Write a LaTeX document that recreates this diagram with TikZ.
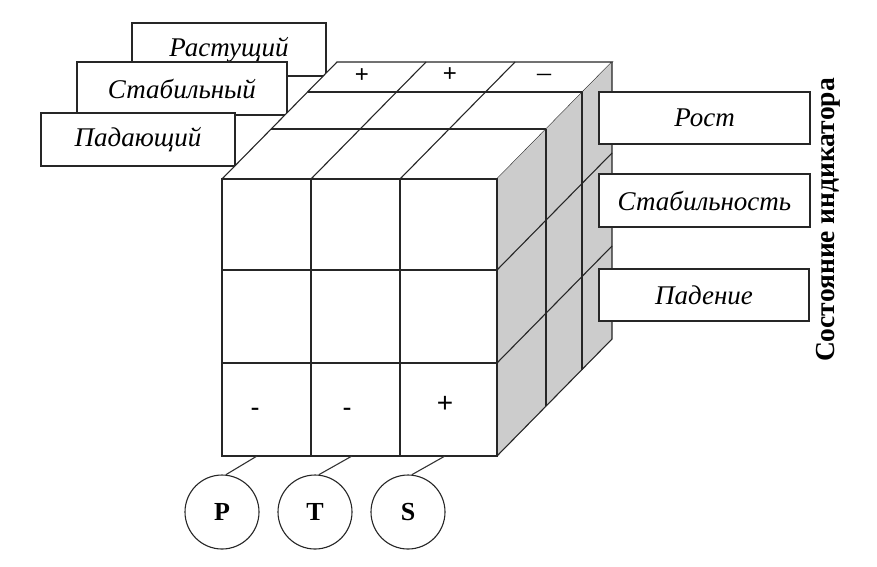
\documentclass[tikz,border=0pt]{standalone}
\usepackage{fontspec}
\setmainfont{Liberation Serif}
\newfontfamily\arialf{Liberation Sans}
\begin{document}
\begin{tikzpicture}[x=1pt,y=-1pt,
  edge/.style={line width=1.1pt,draw=black!85},
  labelbox/.style={draw=black!85,line width=1.1pt,fill=white,minimum height=53pt,inner sep=0pt,
     font=\fontsize{27}{30}\selectfont\itshape},
  signtxt/.style={font=\arialf\fontsize{24}{28}\selectfont,inner sep=0pt},
  factor/.style={circle,draw=black!85,line width=1.1pt,minimum size=74pt,inner sep=0pt,
     font=\fontsize{26}{28}\selectfont\bfseries},
  link/.style={line width=1.1pt,draw=black!80}]
\useasboundingbox (0,0) rectangle (877,566);
% left labels (back to front)
\node[labelbox,minimum width=194pt] (rast) at (229,49.5) {Растущий};
\node[labelbox,minimum width=210pt] (stab) at (182,88.5) {Стабильный};
\node[labelbox,minimum width=194pt] (pad) at (138,139.5) {Падающий};
% top face
\fill[white] (222,179) -- (497,179) -- (612,62) -- (337,62) -- cycle;
\draw[edge] (222,179) -- (337,62) -- (612,62) -- (497,179);
\draw[edge] (307.5,92) -- (582.5,92);
\draw[edge] (271,129) -- (546,129);
\draw[edge] (311,179) -- (426,62);
\draw[edge] (400,179) -- (515,62);
% right face
\fill[black!20] (497,179) -- (612,62) -- (612,339) -- (497,456) -- cycle;
\draw[edge] (612,62) -- (612,339) -- (497,456);
\draw[edge] (546,129) -- (546,406);
\draw[edge] (582,92) -- (582,370);
\draw[edge] (497,270) -- (612,153);
\draw[edge] (497,363) -- (612,246);
% front face
\fill[white] (222,179) rectangle (497,456);
\draw[edge] (222,179) rectangle (497,456);
\draw[edge] (311,179) -- (311,456);
\draw[edge] (400,179) -- (400,456);
\draw[edge] (222,270) -- (497,270);
\draw[edge] (222,363) -- (497,363);
% signs
\node[signtxt,font=\arialf\fontsize{24}{26}\selectfont] (t1) at (362,76) {+};
\node[signtxt,font=\arialf\fontsize{24}{26}\selectfont] (t2) at (450,75) {+};
\node[signtxt,font=\fontsize{28}{30}\selectfont] (t3) at (544,78) {–};
\node[signtxt,font=\arialf\fontsize{27}{28}\selectfont] (b1) at (255,412) {-};
\node[signtxt,font=\arialf\fontsize{27}{28}\selectfont] (b2) at (347,412) {-};
\node[signtxt,font=\arialf\fontsize{28}{30}\selectfont] (b3) at (445,404) {+};
% right labels
\node[labelbox,minimum width=211pt,minimum height=52pt] (rost) at (704.5,118) {Рост};
\node[labelbox,minimum width=211pt] (stabn) at (704.5,200.5) {Стабильность};
\node[labelbox,minimum width=210pt,minimum height=52pt] (paden) at (704,295) {Падение};
% axis title
\node[rotate=90,font=\fontsize{27.5}{30}\selectfont\bfseries,inner sep=0pt] (axis) at (828,220) {Состояние индикатора};
% factors
\coordinate (ap) at (257,456);
\coordinate (at) at (352,456);
\coordinate (as) at (445,456);
\node[factor] (P) at (222,512) {P};
\node[factor] (T) at (315,512) {T};
\node[factor] (S) at (408,512) {S};
\draw[link] (P.84) -- (ap);
\draw[link] (T.84) -- (at);
\draw[link] (S.84) -- (as);
\end{tikzpicture}
\end{document}
